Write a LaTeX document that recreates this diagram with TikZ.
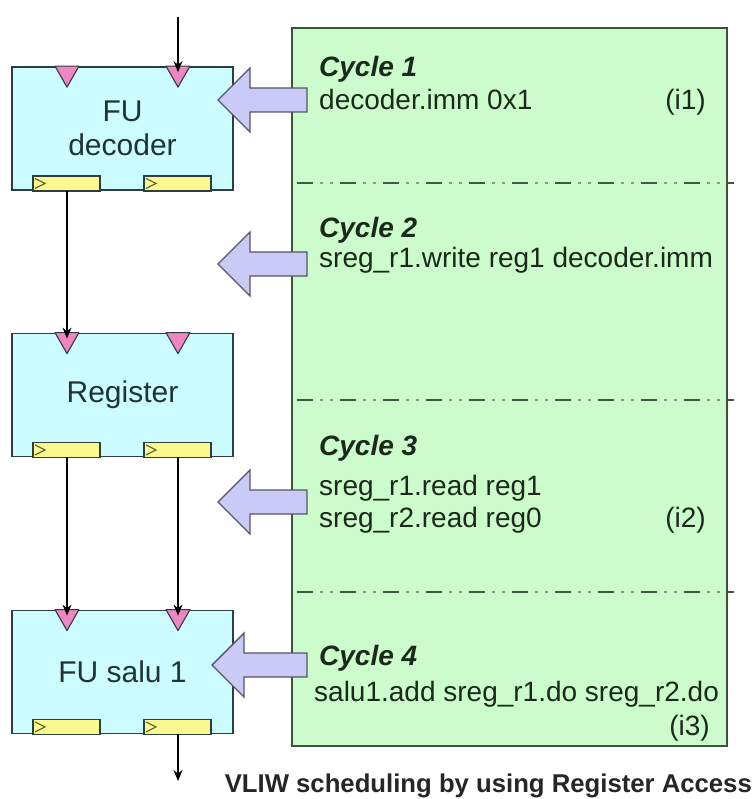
\documentclass[tikz,border=0pt]{standalone}
\usepackage{fontspec}
\setmainfont{Liberation Sans}
\usetikzlibrary{arrows.meta,calc}
\definecolor{cyanfill}{HTML}{CCFCFF}
\definecolor{greenfill}{HTML}{CCFCCC}
\definecolor{pinkfill}{HTML}{EE86C4}
\definecolor{yellowfill}{HTML}{FAF88E}
\definecolor{arrowfill}{HTML}{CACAF6}
\definecolor{boxedge}{HTML}{2E3E3E}
\definecolor{greenedge}{HTML}{3A553A}
\definecolor{sepcol}{HTML}{3E5A40}
\definecolor{dotcol}{HTML}{7E9E80}
\definecolor{arrowedge}{HTML}{55556A}
\definecolor{txt}{HTML}{1F3434}
\definecolor{ctxt}{HTML}{1A2A1A}
\newcommand{\unitblock}[3]{%
  \node[fubox] (#1) at (122.5,#2) {#3};
  \foreach \px [count=\k] in {-55.5,55.5} {
    \draw[portmark] ($(#1.north)+(\px-12,0)$) -- ($(#1.north)+(\px+12,0)$) -- ($(#1.north)+(\px,21)$) -- cycle;
    \coordinate (#1-in\k) at ($(#1.north)+(\px,6)$);
    \draw[outmark] ($(#1.south)+(\px-34,-15)$) rectangle ($(#1.south)+(\px+33,0)$);
    \draw[chev] ($(#1.south)+(\px-32,-12.5)$) -- ($(#1.south)+(\px-22,-7.5)$) -- ($(#1.south)+(\px-32,-2.5)$);
    \coordinate (#1-out\k) at ($(#1.south)+(\px,0)$);
  }
}
\newcommand{\blockarr}[2]{% tip x, centre y
  \draw[blockarrow] (#1,#2) -- (#1+32,#2-32) -- (#1+32,#2-12) -- (307,#2-12) -- (307,#2+12) -- (#1+32,#2+12) -- (#1+32,#2+32) -- cycle;
}
\newcommand{\sepat}[1]{%
  \draw[sepdash] (297,#1) -- (734,#1);
  \draw[sepdot] (297,#1) -- (734,#1);
}
\begin{document}
\begin{tikzpicture}[x=1pt,y=-1pt,
  fubox/.style={draw=boxedge, line width=1.8pt, fill=cyanfill, minimum width=221pt, minimum height=123pt, inner sep=0pt, align=center, text=txt, font=\fontsize{30}{36}\selectfont},
  portmark/.style={draw=boxedge, line width=1.1pt, fill=pinkfill, line join=round},
  outmark/.style={draw=boxedge, line width=1.3pt, fill=yellowfill},
  chev/.style={draw=boxedge!80!yellow, line width=1.1pt},
  conn/.style={draw=black, line width=1.2pt, -{Stealth[length=11pt,width=9pt]}},
  sepdash/.style={draw=sepcol, line width=2.6pt, dash pattern=on 16pt off 27pt},
  sepdot/.style={draw=dotcol, line width=2.2pt, dash pattern=on 0pt off 23pt on 3pt off 7pt on 3pt off 7pt},
  blockarrow/.style={draw=arrowedge, line width=1.4pt, fill=arrowfill, line join=miter},
  cyc/.style={anchor=base west, inner sep=0pt, text=ctxt, font=\fontsize{28}{32}\selectfont},
  cychead/.style={cyc, font=\fontsize{28}{32}\selectfont\bfseries\itshape},
  tag/.style={anchor=base east, inner sep=0pt, text=ctxt, font=\fontsize{28}{32}\selectfont}
]
\useasboundingbox (0,0) rectangle (755,799);
\fill[white] (0,0) rectangle (755,799);

% schedule panel
\node[draw=greenedge, line width=1.8pt, fill=greenfill, minimum width=435pt, minimum height=718pt, inner sep=0pt] (sched) at (509.5,387) {};
\sepat{183}
\sepat{400}
\sepat{592}

% functional units
\unitblock{dec}{128.5}{FU\\[-2pt]decoder}
\unitblock{reg}{395}{Register}
\unitblock{alu}{672}{FU salu 1}

% connectors
\coordinate (topin) at (178,17);
\coordinate (botout) at (178,781);
\draw[conn] (topin) -- (dec-in2);
\draw[conn] (dec-out1) -- (reg-in1);
\draw[conn] (reg-out1) -- (alu-in1);
\draw[conn] (reg-out2) -- (alu-in2);
\draw[conn] (alu-out2) -- (botout);

% cycle texts
\node[cychead] (c1h) at (319,77) {Cycle 1};
\node[cyc] (c1a) at (319,110) {decoder.imm 0x1};
\node[tag] (i1) at (706,110) {(i1)};
\node[cychead] (c2h) at (319,238) {Cycle 2};
\node[cyc] (c2a) at (319,267) {sreg\_r1.write reg1 decoder.imm};
\node[cychead] (c3h) at (319,455) {Cycle 3};
\node[cyc] (c3a) at (319,495) {sreg\_r1.read reg1};
\node[cyc] (c3b) at (319,527) {sreg\_r2.read reg0};
\node[tag] (i2) at (706,527) {(i2)};
\node[cychead] (c4h) at (319,665) {Cycle 4};
\node[cyc] (c4a) at (314,701) {salu1.add sreg\_r1.do sreg\_r2.do};
\node[tag] (i3) at (710,735) {(i3)};

% issue arrows
\blockarr{218}{100}
\blockarr{218}{264}
\blockarr{218}{502}
\blockarr{212}{665}

% caption
\node[anchor=base east, inner sep=0pt, font=\fontsize{25.7}{30}\selectfont\bfseries, text=black!85] (cap) at (752,792) {VLIW scheduling by using Register Access};
\end{tikzpicture}
\end{document}
